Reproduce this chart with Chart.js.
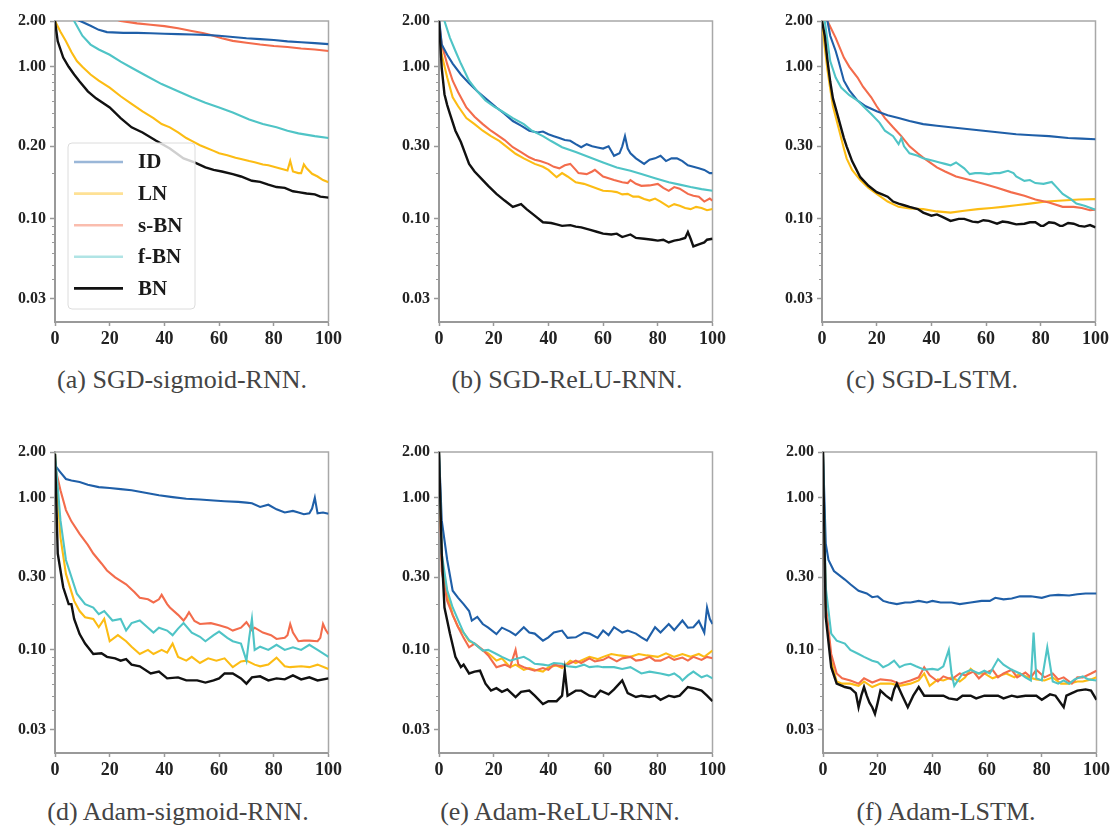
<!DOCTYPE html>
<html>
<head>
<meta charset="utf-8">
<script src="https://cdn.jsdelivr.net/npm/chart.js@4.4.1/dist/chart.umd.min.js"></script>
<style>
  body { margin: 0; background: #fff; }
  #fig { position: relative; width: 1115px; height: 833px; overflow: hidden; }
  #fig canvas { position: absolute; }
  .cap { position: absolute; width: 400px; margin-left: -200px; text-align: center;
         font: 26px "Liberation Serif", "DejaVu Serif", serif; color: #444; white-space: nowrap; }
</style>
</head>
<body>
<div id="fig">
  <canvas id="pa" width="345" height="350" style="left:0px;top:0px"></canvas>
  <canvas id="pb" width="345" height="350" style="left:384px;top:0px"></canvas>
  <canvas id="pc" width="345" height="350" style="left:767px;top:0px"></canvas>
  <canvas id="pd" width="345" height="349" style="left:0px;top:432px"></canvas>
  <canvas id="pe" width="345" height="349" style="left:384px;top:432px"></canvas>
  <canvas id="pf" width="345" height="349" style="left:768px;top:432px"></canvas>
  <div class="cap" style="left:182px;top:365px">(a) SGD-sigmoid-RNN.</div>
  <div class="cap" style="left:567px;top:365px">(b) SGD-ReLU-RNN.</div>
  <div class="cap" style="left:932px;top:365px">(c) SGD-LSTM.</div>
  <div class="cap" style="left:178px;top:797px">(d) Adam-sigmoid-RNN.</div>
  <div class="cap" style="left:560px;top:797px">(e) Adam-ReLU-RNN.</div>
  <div class="cap" style="left:946px;top:797px">(f) Adam-LSTM.</div>
</div>
<script>
// series names and colours, same for every panel
const seriesNames = ["ID", "LN", "s-BN", "f-BN", "BN"];
const lineColors = ["#1f5fa8", "#fcbc14", "#f36c4c", "#4fc4c6", "#111111"];
const drawOrder = [2, 4, 3, 1, 0]; // BN on top

// axis ticks
const xTicks = [0, 20, 40, 60, 80, 100];
const yTicks = [0.03, 0.1, 0.3, 1, 2];
const yTickLabels = ["0.03", "0.10", "0.30", "1.00", "2.00"];
const yTickLabelsA = ["0.03", "0.10", "0.20", "1.00", "2.00"];
const yMinor = [0.04, 0.05, 0.06, 0.07, 0.08, 0.09, 0.2, 0.4, 0.5, 0.6, 0.7, 0.8, 0.9];

// (a) SGD-sigmoid-RNN  [epoch, loss]
const sgdSigmoidID = [[0,2.3],[5,2.15],[10,1.97],[13,1.86],[16,1.75],[19,1.69],[25,1.67],[30,1.67],[35,1.66],[40,1.65],[45,1.64],[50,1.63],[55,1.62],[60,1.6],[65,1.57],[70,1.54],[75,1.52],[80,1.5],[85,1.47],[90,1.45],[95,1.43],[100,1.41]];
const sgdSigmoidLN = [[0,2.0],[2,1.7],[4,1.47],[6,1.25],[8,1.09],[10,1.0],[13,0.89],[16,0.81],[20,0.73],[24,0.64],[28,0.57],[32,0.51],[36,0.46],[39,0.42],[42,0.4],[45,0.37],[48,0.34],[50,0.326],[53,0.305],[55,0.295],[58,0.28],[60,0.27],[63,0.262],[66,0.252],[68,0.248],[71,0.24],[73,0.236],[76,0.228],[78,0.225],[81,0.218],[83,0.213],[85,0.208],[86,0.24],[87,0.205],[89,0.2],[90,0.2],[91,0.228],[92,0.215],[94,0.198],[96,0.19],[98,0.18],[100,0.174]];
const sgdSigmoidSBN = [[0,2.6],[12,2.35],[20,2.12],[24,2.0],[30,1.93],[35,1.89],[40,1.85],[45,1.79],[50,1.72],[54,1.67],[57,1.62],[61,1.54],[65,1.48],[70,1.44],[75,1.4],[80,1.37],[85,1.35],[90,1.32],[95,1.3],[100,1.27]];
const sgdSigmoidFBN = [[0,3.2],[4,2.5],[7,2.0],[10,1.6],[13,1.4],[16,1.3],[20,1.2],[24,1.08],[28,0.985],[33,0.88],[39,0.77],[45,0.69],[50,0.63],[55,0.58],[60,0.54],[65,0.5],[71,0.45],[76,0.42],[81,0.4],[85,0.38],[89,0.365],[95,0.35],[100,0.34]];
const sgdSigmoidBN = [[0,2.0],[1,1.47],[3,1.15],[5,1.0],[7,0.89],[9,0.8],[12,0.69],[15,0.62],[20,0.54],[24,0.46],[28,0.4],[32,0.37],[37,0.326],[42,0.29],[47,0.25],[51,0.235],[55,0.218],[58,0.21],[61,0.205],[65,0.197],[68,0.19],[72,0.178],[75,0.175],[78,0.168],[81,0.162],[84,0.16],[87,0.152],[89,0.15],[92,0.147],[95,0.145],[97,0.14],[100,0.138]];

// (b) SGD-ReLU-RNN
const sgdReluID = [[0,2.1],[1,1.4],[3,1.2],[5,1.05],[8,0.89],[11,0.78],[14,0.69],[17,0.62],[21,0.54],[24,0.49],[27,0.44],[30,0.41],[33,0.38],[36,0.37],[38,0.375],[40,0.36],[42,0.35],[44,0.34],[46,0.33],[48,0.326],[50,0.31],[52,0.296],[54,0.31],[56,0.3],[58,0.295],[60,0.29],[62,0.3],[64,0.26],[66,0.27],[67,0.3],[68,0.35],[69,0.29],[70,0.27],[72,0.25],[75,0.23],[77,0.245],[79,0.25],[81,0.26],[83,0.24],[85,0.25],[87,0.25],[89,0.24],[91,0.225],[93,0.22],[95,0.215],[97,0.21],[99,0.2],[100,0.2]];
const sgdReluLN = [[0,2.0],[1,1.2],[3,0.85],[5,0.63],[7,0.55],[10,0.46],[13,0.42],[16,0.38],[19,0.35],[22,0.326],[25,0.295],[28,0.268],[31,0.25],[35,0.23],[38,0.22],[40,0.21],[43,0.188],[45,0.2],[47,0.19],[50,0.174],[53,0.17],[55,0.165],[58,0.158],[60,0.153],[63,0.152],[65,0.15],[67,0.145],[69,0.146],[71,0.14],[73,0.14],[75,0.135],[77,0.132],[79,0.136],[81,0.13],[84,0.12],[86,0.125],[88,0.122],[90,0.118],[92,0.116],[94,0.12],[96,0.118],[98,0.114],[100,0.116]];
const sgdReluSBN = [[0,2.0],[1,1.4],[3,1.04],[5,0.81],[7,0.68],[10,0.54],[13,0.47],[16,0.42],[19,0.38],[21,0.36],[24,0.33],[27,0.296],[30,0.275],[33,0.254],[35,0.245],[37,0.24],[40,0.23],[42,0.22],[44,0.215],[46,0.225],[48,0.23],[50,0.21],[51,0.2],[54,0.197],[56,0.205],[57,0.21],[60,0.19],[62,0.185],[64,0.18],[67,0.174],[69,0.172],[70,0.18],[72,0.17],[74,0.165],[77,0.166],[80,0.17],[82,0.16],[84,0.153],[86,0.162],[88,0.158],[91,0.146],[93,0.142],[95,0.14],[97,0.13],[99,0.136],[100,0.132]];
const sgdReluFBN = [[0,2.6],[2,2.0],[4,1.55],[6,1.27],[8,1.05],[11,0.81],[14,0.69],[17,0.6],[20,0.55],[23,0.51],[27,0.46],[31,0.42],[34,0.38],[38,0.35],[41,0.325],[45,0.296],[50,0.275],[55,0.254],[60,0.235],[65,0.218],[70,0.207],[74,0.197],[79,0.185],[84,0.174],[88,0.168],[92,0.162],[96,0.157],[100,0.153]];
const sgdReluBN = [[0,2.0],[1,0.98],[2,0.66],[3,0.56],[4,0.49],[6,0.38],[8,0.32],[11,0.23],[13,0.205],[16,0.18],[18,0.165],[21,0.146],[24,0.132],[27,0.12],[30,0.125],[32,0.116],[35,0.105],[38,0.095],[41,0.094],[43,0.092],[45,0.09],[48,0.091],[50,0.089],[52,0.088],[55,0.085],[58,0.082],[60,0.08],[63,0.079],[65,0.08],[67,0.076],[70,0.079],[72,0.075],[75,0.074],[78,0.073],[80,0.072],[82,0.073],[84,0.07],[86,0.072],[88,0.073],[90,0.075],[91,0.082],[92,0.074],[93,0.066],[95,0.068],[97,0.07],[98,0.073],[100,0.074]];

// (c) SGD-LSTM
const sgdLstmID = [[0,2.6],[2,2.0],[3,1.6],[5,1.27],[6,1.1],[8,0.81],[10,0.7],[13,0.6],[16,0.55],[20,0.51],[24,0.48],[28,0.46],[32,0.44],[37,0.42],[42,0.41],[47,0.4],[53,0.39],[59,0.38],[65,0.37],[71,0.36],[77,0.355],[83,0.35],[90,0.34],[95,0.337],[100,0.334]];
const sgdLstmLN = [[0,2.0],[1,1.35],[2,0.95],[3,0.72],[4,0.55],[6,0.4],[8,0.29],[9,0.25],[11,0.21],[14,0.18],[17,0.16],[20,0.146],[24,0.13],[28,0.12],[32,0.117],[37,0.116],[42,0.112],[47,0.11],[52,0.113],[57,0.116],[62,0.118],[66,0.12],[71,0.123],[76,0.126],[82,0.13],[88,0.132],[94,0.134],[100,0.135]];
const sgdLstmSBN = [[0,2.5],[2,2.0],[5,1.55],[8,1.15],[10,1.0],[13,0.85],[15,0.74],[18,0.63],[20,0.55],[23,0.46],[26,0.4],[29,0.35],[32,0.3],[35,0.27],[38,0.245],[42,0.218],[45,0.205],[49,0.19],[54,0.18],[59,0.17],[64,0.16],[69,0.15],[74,0.142],[78,0.134],[83,0.128],[88,0.12],[92,0.12],[95,0.118],[98,0.114],[100,0.115]];
const sgdLstmFBN = [[0,2.3],[1,2.0],[3,1.09],[5,0.85],[7,0.73],[10,0.65],[13,0.6],[16,0.53],[18,0.49],[21,0.43],[23,0.38],[26,0.35],[28,0.31],[29,0.34],[30,0.3],[32,0.27],[35,0.26],[37,0.25],[41,0.24],[43,0.235],[45,0.23],[47,0.225],[49,0.235],[52,0.215],[54,0.197],[56,0.2],[58,0.2],[61,0.197],[63,0.2],[65,0.2],[68,0.207],[70,0.2],[71,0.19],[74,0.178],[76,0.18],[78,0.172],[81,0.17],[84,0.175],[86,0.16],[88,0.146],[91,0.135],[93,0.126],[96,0.122],[100,0.115]];
const sgdLstmBN = [[0,2.0],[1,1.6],[2,1.1],[3,0.8],[4,0.62],[6,0.46],[8,0.34],[9,0.3],[11,0.24],[14,0.188],[17,0.165],[20,0.15],[22,0.145],[24,0.14],[26,0.13],[28,0.126],[30,0.123],[32,0.12],[35,0.116],[37,0.11],[40,0.105],[42,0.107],[44,0.103],[47,0.097],[50,0.1],[52,0.1],[55,0.096],[57,0.095],[59,0.098],[61,0.097],[64,0.093],[66,0.096],[68,0.095],[71,0.092],[74,0.093],[76,0.095],[78,0.095],[80,0.09],[81,0.09],[83,0.095],[85,0.094],[87,0.09],[88,0.09],[90,0.094],[92,0.093],[94,0.09],[96,0.089],[98,0.091],[100,0.088]];

// (d) Adam-sigmoid-RNN
const adamSigmoidID = [[0,1.63],[2,1.47],[4,1.33],[6,1.3],[9,1.27],[12,1.22],[16,1.175],[20,1.16],[24,1.14],[28,1.12],[33,1.08],[38,1.04],[43,1.01],[48,0.985],[53,0.975],[58,0.96],[62,0.95],[67,0.94],[70,0.93],[72,0.92],[75,0.87],[78,0.9],[81,0.84],[84,0.8],[87,0.82],[89,0.8],[91,0.78],[93,0.79],[94,0.85],[95,1.0],[96,0.79],[98,0.8],[100,0.785]];
const adamSigmoidLN = [[0,1.95],[2,0.55],[4,0.316],[7,0.21],[9,0.18],[11,0.164],[14,0.16],[16,0.141],[18,0.16],[20,0.114],[23,0.125],[26,0.114],[28,0.105],[31,0.094],[34,0.1],[36,0.094],[39,0.1],[41,0.096],[43,0.11],[45,0.09],[48,0.085],[50,0.09],[53,0.082],[56,0.088],[59,0.085],[62,0.088],[65,0.077],[68,0.084],[70,0.085],[73,0.08],[75,0.078],[78,0.08],[81,0.089],[84,0.078],[86,0.077],[90,0.078],[93,0.077],[96,0.08],[100,0.075]];
const adamSigmoidSBN = [[0,1.6],[2,1.12],[4,0.83],[6,0.7],[9,0.58],[12,0.49],[14,0.43],[17,0.37],[19,0.333],[22,0.3],[26,0.27],[29,0.24],[31,0.22],[34,0.215],[36,0.205],[38,0.215],[39,0.23],[41,0.2],[42,0.19],[45,0.17],[47,0.156],[48,0.165],[49,0.177],[51,0.155],[53,0.148],[57,0.15],[60,0.145],[63,0.14],[65,0.134],[68,0.14],[70,0.152],[72,0.135],[73,0.14],[76,0.13],[79,0.125],[81,0.118],[84,0.12],[85,0.125],[86,0.148],[87,0.13],[89,0.114],[91,0.115],[93,0.115],[96,0.114],[97,0.12],[98,0.148],[99,0.135],[100,0.127]];
const adamSigmoidFBN = [[0,1.95],[2,0.71],[4,0.39],[8,0.234],[11,0.2],[14,0.19],[16,0.172],[18,0.18],[21,0.156],[24,0.16],[26,0.134],[28,0.15],[31,0.156],[34,0.14],[36,0.13],[38,0.14],[41,0.134],[43,0.125],[45,0.138],[47,0.15],[50,0.13],[53,0.122],[55,0.114],[58,0.125],[60,0.132],[63,0.12],[65,0.114],[68,0.11],[70,0.085],[71,0.12],[72,0.16],[73,0.1],[75,0.105],[78,0.1],[81,0.108],[84,0.1],[87,0.104],[90,0.1],[93,0.108],[96,0.1],[100,0.09]];
const adamSigmoidBN = [[0,1.95],[1,0.43],[3,0.258],[5,0.2],[6,0.2],[7,0.16],[9,0.127],[11,0.11],[14,0.094],[17,0.095],[19,0.09],[22,0.088],[24,0.085],[26,0.087],[28,0.08],[31,0.078],[35,0.07],[38,0.072],[41,0.065],[45,0.066],[48,0.063],[52,0.063],[55,0.061],[58,0.063],[60,0.065],[62,0.07],[65,0.07],[68,0.065],[70,0.06],[72,0.066],[75,0.067],[78,0.063],[81,0.065],[84,0.064],[87,0.068],[90,0.064],[93,0.066],[96,0.063],[100,0.065]];

// (e) Adam-ReLU-RNN
const adamReluID = [[0,2.0],[1,0.71],[3,0.39],[5,0.245],[7,0.22],[9,0.2],[11,0.18],[12,0.156],[14,0.165],[16,0.148],[18,0.14],[21,0.127],[23,0.14],[26,0.132],[28,0.125],[31,0.141],[33,0.13],[35,0.128],[38,0.115],[40,0.121],[42,0.13],[45,0.134],[47,0.12],[50,0.121],[53,0.13],[55,0.128],[58,0.12],[60,0.134],[62,0.125],[64,0.141],[67,0.13],[69,0.134],[72,0.128],[74,0.121],[76,0.115],[79,0.141],[81,0.13],[84,0.148],[86,0.135],[89,0.156],[91,0.14],[93,0.141],[95,0.155],[97,0.13],[98,0.19],[99,0.16],[100,0.148]];
const adamReluLN = [[0,2.0],[1,0.39],[3,0.234],[5,0.17],[7,0.141],[9,0.13],[11,0.114],[13,0.11],[16,0.099],[18,0.095],[21,0.085],[23,0.088],[26,0.077],[28,0.08],[31,0.074],[33,0.076],[35,0.074],[38,0.072],[40,0.077],[43,0.079],[45,0.076],[48,0.085],[50,0.082],[55,0.09],[58,0.087],[60,0.09],[63,0.094],[66,0.092],[70,0.09],[73,0.094],[76,0.092],[80,0.09],[83,0.095],[86,0.09],[89,0.094],[92,0.09],[95,0.094],[97,0.09],[100,0.099]];
const adamReluSBN = [[0,2.0],[1,0.33],[3,0.21],[5,0.17],[7,0.141],[9,0.12],[11,0.104],[13,0.11],[16,0.1],[18,0.092],[21,0.077],[24,0.08],[26,0.077],[28,0.1],[29,0.08],[31,0.077],[33,0.075],[35,0.073],[38,0.076],[40,0.074],[42,0.08],[45,0.078],[47,0.08],[50,0.085],[52,0.082],[55,0.088],[57,0.084],[60,0.086],[62,0.09],[65,0.084],[67,0.088],[70,0.09],[72,0.085],[74,0.086],[77,0.09],[79,0.085],[81,0.085],[84,0.09],[86,0.086],[89,0.089],[91,0.085],[93,0.09],[96,0.086],[98,0.09],[100,0.088]];
const adamReluFBN = [[0,2.0],[1,0.43],[3,0.246],[5,0.19],[7,0.157],[9,0.13],[11,0.116],[13,0.11],[16,0.099],[18,0.1],[21,0.094],[23,0.09],[26,0.085],[28,0.087],[31,0.09],[33,0.086],[35,0.081],[38,0.08],[40,0.079],[42,0.082],[45,0.081],[47,0.078],[50,0.077],[53,0.08],[55,0.077],[58,0.078],[60,0.077],[64,0.077],[67,0.075],[70,0.077],[74,0.07],[77,0.072],[81,0.07],[84,0.068],[86,0.07],[88,0.066],[89,0.063],[91,0.068],[93,0.072],[96,0.066],[98,0.068],[100,0.065]];
const adamReluBN = [[0,2.0],[1,0.43],[2,0.19],[4,0.128],[6,0.09],[8,0.077],[9,0.08],[11,0.07],[13,0.072],[15,0.073],[17,0.06],[19,0.054],[21,0.056],[23,0.053],[25,0.055],[28,0.049],[30,0.053],[33,0.054],[35,0.05],[38,0.044],[40,0.046],[43,0.046],[45,0.05],[46,0.073],[47,0.05],[50,0.054],[52,0.054],[55,0.05],[57,0.049],[59,0.054],[62,0.051],[64,0.055],[67,0.063],[69,0.052],[72,0.049],[74,0.05],[77,0.049],[79,0.05],[81,0.047],[84,0.05],[86,0.049],[88,0.05],[91,0.057],[93,0.056],[96,0.054],[98,0.05],[100,0.046]];

// (f) Adam-LSTM
const adamLstmID = [[0,2.0],[1,0.5],[2,0.39],[4,0.33],[8,0.29],[10,0.27],[13,0.245],[16,0.235],[18,0.222],[20,0.225],[22,0.21],[24,0.205],[27,0.2],[30,0.205],[32,0.205],[35,0.21],[38,0.205],[40,0.21],[43,0.205],[47,0.205],[50,0.2],[54,0.205],[58,0.21],[61,0.21],[63,0.22],[66,0.215],[69,0.218],[72,0.225],[76,0.225],[80,0.22],[83,0.228],[86,0.23],[90,0.228],[93,0.232],[96,0.235],[100,0.235]];
const adamLstmLN = [[0,2.0],[1,0.188],[3,0.085],[5,0.062],[7,0.06],[10,0.06],[13,0.058],[15,0.062],[18,0.057],[21,0.06],[25,0.06],[28,0.058],[32,0.06],[35,0.063],[37,0.07],[39,0.058],[42,0.064],[44,0.063],[47,0.066],[50,0.062],[52,0.066],[54,0.075],[56,0.07],[59,0.07],[62,0.065],[64,0.067],[67,0.07],[70,0.066],[72,0.07],[75,0.066],[78,0.064],[81,0.063],[84,0.066],[87,0.06],[90,0.06],[93,0.062],[95,0.062],[98,0.064],[100,0.066]];
const adamLstmSBN = [[0,2.0],[1,0.2],[3,0.094],[5,0.07],[7,0.065],[10,0.063],[13,0.06],[15,0.065],[18,0.061],[21,0.064],[25,0.063],[28,0.06],[32,0.063],[35,0.066],[37,0.077],[39,0.068],[42,0.062],[44,0.067],[47,0.064],[50,0.07],[52,0.068],[55,0.072],[57,0.065],[59,0.07],[62,0.074],[64,0.066],[66,0.07],[69,0.074],[71,0.066],[74,0.071],[76,0.066],[78,0.074],[81,0.066],[84,0.07],[86,0.064],[88,0.066],[91,0.06],[93,0.066],[95,0.066],[98,0.07],[100,0.073]];
const adamLstmFBN = [[0,2.0],[1,0.258],[3,0.128],[5,0.115],[8,0.11],[10,0.1],[13,0.094],[15,0.09],[18,0.085],[20,0.083],[22,0.077],[24,0.08],[26,0.085],[28,0.077],[30,0.08],[32,0.081],[34,0.078],[37,0.074],[40,0.075],[42,0.074],[44,0.078],[46,0.1],[47,0.07],[48,0.058],[51,0.07],[54,0.074],[57,0.07],[59,0.073],[61,0.07],[64,0.087],[66,0.08],[69,0.074],[72,0.07],[74,0.066],[76,0.063],[77,0.13],[78,0.065],[80,0.063],[82,0.104],[84,0.062],[86,0.06],[88,0.063],[90,0.06],[92,0.064],[95,0.067],[97,0.064],[100,0.063]];
const adamLstmBN = [[0,2.0],[1,0.165],[3,0.077],[5,0.06],[7,0.058],[8,0.057],[10,0.056],[11,0.054],[12,0.052],[13,0.042],[14,0.05],[15,0.057],[16,0.05],[17,0.045],[18,0.042],[19,0.038],[20,0.045],[21,0.054],[23,0.05],[25,0.047],[26,0.055],[27,0.06],[29,0.05],[31,0.042],[33,0.05],[35,0.057],[37,0.05],[39,0.05],[42,0.05],[44,0.05],[46,0.048],[49,0.047],[51,0.05],[54,0.05],[56,0.048],[59,0.05],[62,0.05],[64,0.05],[66,0.048],[69,0.05],[71,0.049],[74,0.05],[76,0.05],[78,0.05],[80,0.047],[83,0.051],[85,0.05],[88,0.042],[89,0.05],[91,0.052],[93,0.054],[96,0.055],[98,0.054],[100,0.047]];

// top/right spine + minor y ticks
const framePlugin = {
  id: 'frame',
  beforeDatasetsDraw(chart) {
    const { ctx, chartArea: a, scales: { y } } = chart;
    ctx.save();
    ctx.strokeStyle = '#a8a8a8';
    ctx.lineWidth = 1.5;
    ctx.beginPath();
    ctx.moveTo(a.left, a.top);
    ctx.lineTo(a.right, a.top);
    ctx.lineTo(a.right, a.bottom);
    ctx.stroke();
    ctx.strokeStyle = '#999';
    ctx.lineWidth = 1;
    yMinor.forEach(v => {
      const py = Math.round(y.getPixelForValue(v)) + 0.5;
      ctx.beginPath();
      ctx.moveTo(a.left - 3, py);
      ctx.lineTo(a.left - 1, py);
      ctx.stroke();
    });
    ctx.restore();
  }
};

// legend inside panel (a), matplotlib style with see-through frame
const legendPlugin = {
  id: 'insetLegend',
  afterDatasetsDraw(chart) {
    const { ctx, chartArea: a } = chart;
    const x0 = a.left + 13, y0 = a.top + 122, w = 127, h = 166, r = 4;
    ctx.save();
    ctx.beginPath();
    ctx.moveTo(x0 + r, y0);
    ctx.arcTo(x0 + w, y0, x0 + w, y0 + h, r);
    ctx.arcTo(x0 + w, y0 + h, x0, y0 + h, r);
    ctx.arcTo(x0, y0 + h, x0, y0, r);
    ctx.arcTo(x0, y0, x0 + w, y0, r);
    ctx.closePath();
    ctx.fillStyle = 'rgba(255,255,255,0.8)';
    ctx.fill();
    ctx.strokeStyle = '#dcdcdc';
    ctx.lineWidth = 1;
    ctx.stroke();
    ctx.font = 'bold 21px "Liberation Serif", serif';
    ctx.textBaseline = 'middle';
    seriesNames.forEach((name, i) => {
      const ly = y0 + 19 + i * 31.6;
      ctx.globalAlpha = i === 4 ? 1 : 0.45;
      ctx.strokeStyle = lineColors[i];
      ctx.lineWidth = 2.6;
      ctx.beginPath();
      ctx.moveTo(x0 + 6, ly);
      ctx.lineTo(x0 + 55, ly);
      ctx.stroke();
      ctx.globalAlpha = 1;
      ctx.fillStyle = '#1a1a1a';
      ctx.fillText(name, x0 + 70, ly + 1);
    });
    ctx.restore();
  }
};

const makePanel = (id, sets, tickLabels, padTop, padRight, withLegend) => {
  new Chart(id, {
    type: 'line',
    data: {
      datasets: sets.map((d, i) => ({
        label: seriesNames[i],
        data: d,
        borderColor: lineColors[i],
        borderWidth: i === 4 ? 2.4 : 2.1,
        pointRadius: 0,
        tension: 0,
        clip: 0,
        order: drawOrder[i]
      }))
    },
    options: {
      responsive: false,
      animation: false,
      layout: { padding: { top: padTop, right: padRight, left: 0, bottom: 0 } },
      plugins: { legend: { display: false }, tooltip: { enabled: false } },
      scales: {
        x: {
          type: 'linear', min: 0, max: 100,
          afterBuildTicks: s => { s.ticks = xTicks.map(v => ({ value: v })); },
          afterFit: s => { s.height = 28; },
          grid: { drawOnChartArea: false, tickLength: 4, tickColor: '#999', tickWidth: 1.5 },
          border: { color: '#999', width: 2 },
          ticks: { color: '#222', padding: 3, maxRotation: 0, autoSkip: false,
                   font: { family: '"Liberation Serif", serif', size: 18, weight: 'bold' } }
        },
        y: {
          type: 'logarithmic', min: 0.021, max: 2,
          afterBuildTicks: s => { s.ticks = yTicks.map(v => ({ value: v })); },
          afterFit: s => { s.width = 55; },
          grid: { drawOnChartArea: false, tickLength: 5, tickColor: '#999', tickWidth: 1.5 },
          border: { color: '#999', width: 2 },
          ticks: { color: '#222', padding: 4, autoSkip: false,
                   font: { family: '"Liberation Serif", serif', size: 16, weight: 'bold' },
                   callback: (v, i) => tickLabels[i] }
        }
      }
    },
    plugins: withLegend ? [framePlugin, legendPlugin] : [framePlugin]
  });
};

makePanel('pa', [sgdSigmoidID, sgdSigmoidLN, sgdSigmoidSBN, sgdSigmoidFBN, sgdSigmoidBN], yTickLabelsA, 21, 15, true);
makePanel('pb', [sgdReluID, sgdReluLN, sgdReluSBN, sgdReluFBN, sgdReluBN], yTickLabels, 21, 14, false);
makePanel('pc', [sgdLstmID, sgdLstmLN, sgdLstmSBN, sgdLstmFBN, sgdLstmBN], yTickLabels, 21, 14, false);
makePanel('pd', [adamSigmoidID, adamSigmoidLN, adamSigmoidSBN, adamSigmoidFBN, adamSigmoidBN], yTickLabels, 20, 15, false);
makePanel('pe', [adamReluID, adamReluLN, adamReluSBN, adamReluFBN, adamReluBN], yTickLabels, 20, 16, false);
makePanel('pf', [adamLstmID, adamLstmLN, adamLstmSBN, adamLstmFBN, adamLstmBN], yTickLabels, 20, 15, false);
</script>
</body>
</html>
